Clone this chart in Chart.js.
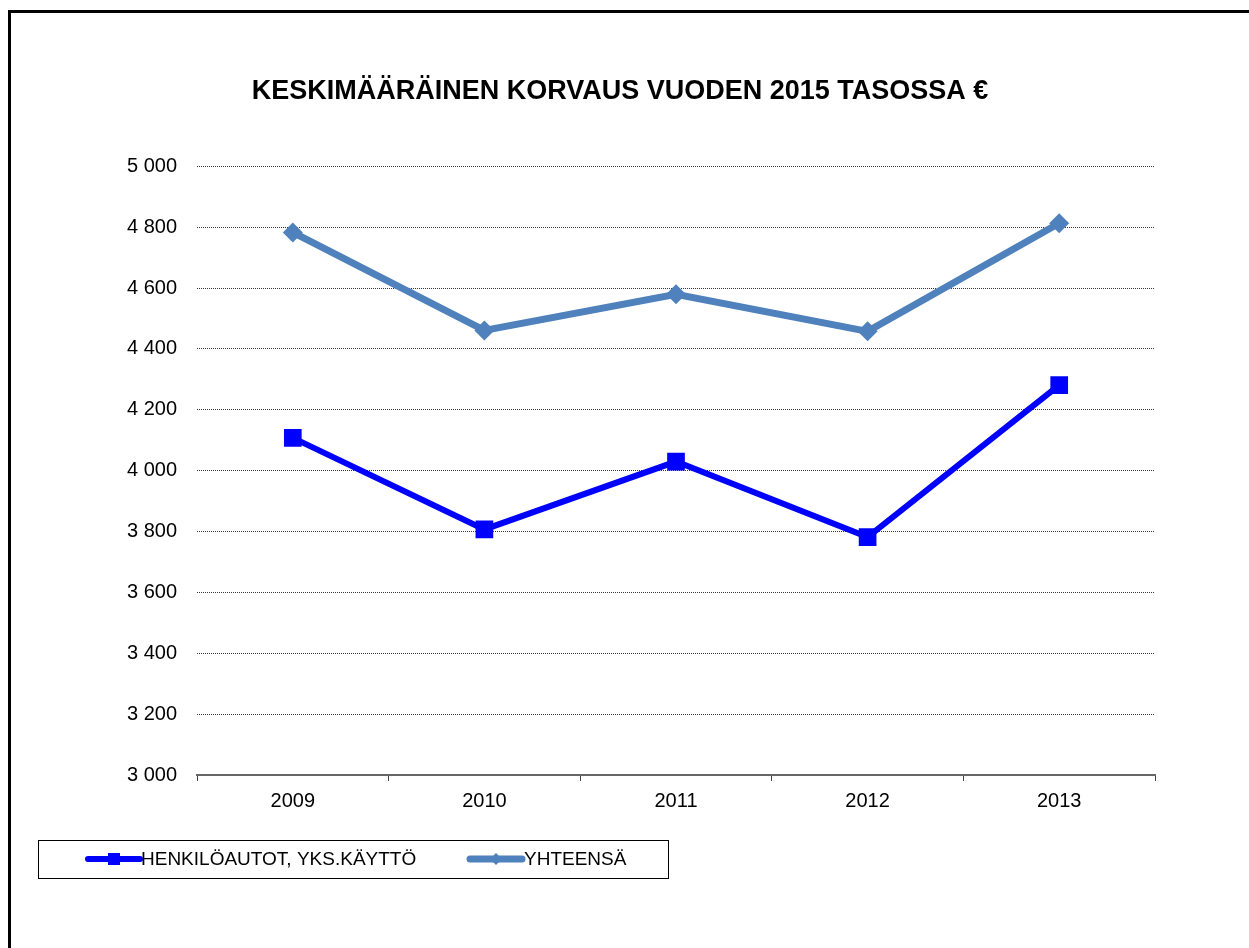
<!DOCTYPE html>
<html>
<head>
<meta charset="utf-8">
<script src="https://cdn.jsdelivr.net/npm/chart.js@4"></script>
<style>
  body { margin: 0; background: #fff; }
  #wrap { position: relative; width: 1249px; height: 948px; overflow: hidden; }
  #frame { position: absolute; left: 8px; top: 10px; width: 1400px; height: 1100px;
           border-top: 3px solid #000; border-left: 3px solid #000; }
  canvas { position: absolute; left: 0; top: 0; }
</style>
</head>
<body>
<div id="wrap">
  <div id="frame"></div>
  <canvas id="myChart" width="1249" height="948"></canvas>
</div>
<script>
const years = ['2009', '2010', '2011', '2012', '2013'];
const henkiloautot = [4108, 3807, 4030, 3782, 4281];
const yhteensa = [4783, 4461, 4580, 4458, 4813];
const seriesNames = ['HENKILÖAUTOT, YKS.KÄYTTÖ', 'YHTEENSÄ'];

const font = 'Liberation Sans, Arial, sans-serif';

function fmt(v) {
  return String(v).replace(/\B(?=(\d{3})+(?!\d))/g, ' ');
}

// legend in a box under the chart
const boxLegend = {
  id: 'boxLegend',
  afterDraw(chart) {
    const c = chart.ctx;
    c.save();
    c.strokeStyle = '#000';
    c.lineWidth = 1;
    c.strokeRect(38.5, 840.5, 630, 38);
    const items = [
      { x: 88, ds: chart.data.datasets[0], textX: 141 },
      { x: 470, ds: chart.data.datasets[1], textX: 524 }
    ];
    items.forEach(it => {
      const y = 859;
      c.strokeStyle = it.ds.borderColor;
      c.lineWidth = it.ds.borderWidth;
      c.lineCap = 'round';
      c.beginPath();
      c.moveTo(it.x, y);
      c.lineTo(it.x + 52, y);
      c.stroke();
      c.fillStyle = it.ds.borderColor;
      const mx = it.x + 26;
      if (it.ds.pointStyle === 'rect') {
        c.fillRect(mx - 6, y - 6, 12, 12);
      } else {
        c.beginPath();
        c.moveTo(mx, y - 6); c.lineTo(mx + 6, y); c.lineTo(mx, y + 6); c.lineTo(mx - 6, y);
        c.closePath(); c.fill();
      }
      c.fillStyle = '#000';
      c.font = '19px ' + font;
      c.textBaseline = 'middle';
      c.fillText(it.ds.label, it.textX, y + 1);
    });
    c.restore();
  }
};

new Chart(document.getElementById('myChart'), {
  type: 'line',
  data: {
    labels: years,
    datasets: [{
      label: seriesNames[0],
      data: henkiloautot,
      borderColor: '#0000FF',
      backgroundColor: '#0000FF',
      borderWidth: 6,
      pointStyle: 'rect',
      pointRadius: 12.5,
      pointBorderWidth: 0,
      tension: 0
    }, {
      label: seriesNames[1],
      data: yhteensa,
      borderColor: '#4F81BD',
      backgroundColor: '#4F81BD',
      borderWidth: 7,
      pointStyle: 'rectRot',
      pointRadius: 10,
      pointBorderWidth: 0,
      tension: 0
    }]
  },
  options: {
    responsive: false,
    animation: false,
    layout: { padding: { left: 85, right: 94, top: 0, bottom: 0 } },
    plugins: {
      legend: { display: false },
      tooltip: { enabled: false },
      title: {
        display: true,
        text: 'KESKIMÄÄRÄINEN KORVAUS VUODEN 2015 TASOSSA €',
        color: '#000',
        font: { family: font, size: 27, weight: 'bold' },
        padding: { top: 75, bottom: 59 }
      }
    },
    scales: {
      x: {
        offset: true,
        grid: { offset: true, drawOnChartArea: false, drawTicks: true, tickLength: 6, tickColor: '#444', tickWidth: 1 },
        border: { display: true, color: '#666', width: 2 },
        ticks: { color: '#000', font: { family: font, size: 20 }, padding: 8 },
        afterFit(scale) { scale.height = 173; }
      },
      y: {
        min: 3000,
        max: 5000,
        ticks: {
          stepSize: 200,
          color: '#000',
          font: { family: font, size: 20 },
          padding: 20,
          callback: v => fmt(v)
        },
        grid: {
          drawTicks: false,
          color: ctx => ctx.tick && ctx.tick.value === 3000 ? 'rgba(0,0,0,0)' : '#333',
          lineWidth: 1
        },
        border: { display: false, dash: [1, 1] },
        afterFit(scale) { scale.width = 112; }
      }
    }
  },
  plugins: [boxLegend]
});
</script>
</body>
</html>
